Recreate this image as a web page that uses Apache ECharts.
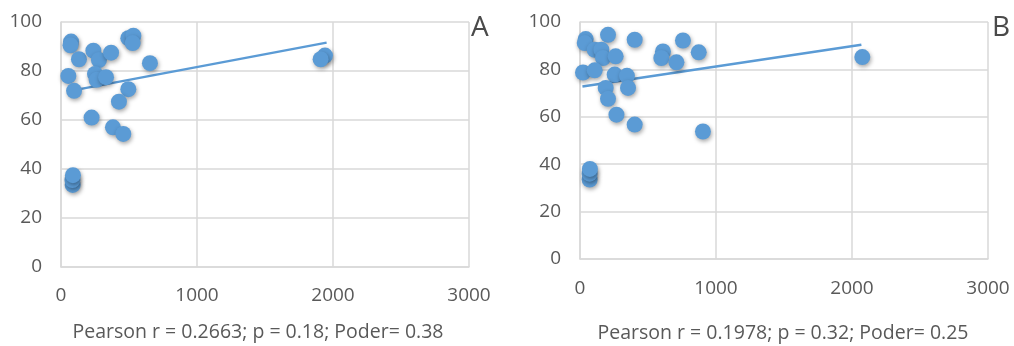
<!DOCTYPE html>
<html>
<head>
<meta charset="utf-8">
<script src="https://cdn.jsdelivr.net/npm/echarts@6/dist/echarts.min.js"></script>
<style>html,body{margin:0;padding:0;background:#fff}#c{width:1014px;height:346px}</style>
</head>
<body>
<div id="c"></div>
<script>
// Panel A data [x, y]
const pointsA = [
  [74, 92], [70, 90.5], [132, 84.8], [238, 88.3], [279, 84.5], [368, 87.5],
  [54, 78], [96, 71.9], [250, 78.8], [262, 76.4], [331, 77.5], [495, 72.6],
  [426, 67.5], [225, 61], [382, 57], [458, 54.3], [495, 93.4], [532, 94.4],
  [527, 91.4], [654, 83.2], [86, 33.5], [84, 35.5], [88, 37.5],
  [1941, 86.3], [1909, 84.8]
];
const trendA = [[50, 71.7], [1953, 91.6]];

// Panel B data [x, y]
const pointsB = [
  [42, 92.8], [35, 91.1], [206, 94.6], [402, 92.5], [108, 88.3], [157, 88.3],
  [169, 84.8], [262, 85.5], [22, 78.7], [108, 79.6], [255, 77.8], [345, 77.3],
  [353, 72.2], [189, 72.2], [206, 67.6], [268, 60.9], [402, 56.7], [610, 87.6],
  [598, 84.8], [709, 83], [757, 92.2], [873, 87.2], [904, 53.8],
  [71, 33.5], [71, 36], [73, 38], [2076, 85.2]
];
const trendB = [[18, 72.8], [2069, 90.4]];

const xTicks = [0, 1000, 2000, 3000];
const yTicks = [0, 20, 40, 60, 80, 100];
const labelA = 'A';
const labelB = 'B';
const statsA = 'Pearson r = 0.2663; p = 0.18; Poder= 0.38';
const statsB = 'Pearson r = 0.1978; p = 0.32; Poder= 0.25';

const FONT = '"Open Sans", sans-serif';
const TXT = '#595959';
const GRID = '#d9d9d9';
const BLUE = '#5b9bd5';

function xAxis(i) {
  return {
    gridIndex: i, type: 'value', min: xTicks[0], max: xTicks[xTicks.length - 1], interval: 1000,
    axisLine: { show: true, lineStyle: { color: GRID, width: 1.5 } },
    axisTick: { show: false },
    splitLine: { show: true, lineStyle: { color: GRID, width: 1.5 } },
    axisLabel: { color: TXT, fontFamily: FONT, fontSize: 19, margin: i === 0 ? 19 : 20, formatter: v => String(v) }
  };
}
function yAxis(i) {
  return {
    gridIndex: i, type: 'value', min: yTicks[0], max: yTicks[yTicks.length - 1], interval: 20,
    axisLine: { show: true, lineStyle: { color: GRID, width: 1.5 } },
    axisTick: { show: false },
    splitLine: { show: true, lineStyle: { color: GRID, width: 1.5 } },
    axisLabel: { color: TXT, fontFamily: FONT, fontSize: 19, margin: 19, formatter: v => String(v) }
  };
}
function scatter(i, data) {
  return {
    type: 'scatter', xAxisIndex: i, yAxisIndex: i, data: data, symbolSize: 16,
    itemStyle: { color: BLUE, opacity: 1, shadowBlur: 4, shadowColor: 'rgba(0,0,0,0.35)', shadowOffsetX: 1, shadowOffsetY: 2 },
    z: 3
  };
}
function trend(i, data) {
  return {
    type: 'line', xAxisIndex: i, yAxisIndex: i, data: data, symbol: 'none',
    lineStyle: { color: BLUE, width: 2.4 }, z: 2, animation: false
  };
}

const chart = echarts.init(document.getElementById('c'), null, { renderer: 'canvas' });
chart.setOption({
  animation: false,
  backgroundColor: '#fff',
  grid: [
    { left: 61, top: 22, width: 408, height: 245 },
    { left: 580, top: 22, width: 408, height: 237 }
  ],
  xAxis: [xAxis(0), xAxis(1)],
  yAxis: [yAxis(0), yAxis(1)],
  series: [trend(0, trendA), scatter(0, pointsA), trend(1, trendB), scatter(1, pointsB)],
  graphic: [
    { type: 'text', left: 471, top: 14, style: { text: labelA, fill: '#4a4a4a', font: '28px ' + FONT } },
    { type: 'text', left: 992, top: 14, style: { text: labelB, fill: '#4a4a4a', font: '28px ' + FONT } },
    { type: 'text', x: 258, y: 332, style: { text: statsA, fill: TXT, font: '19.5px ' + FONT, align: 'center', verticalAlign: 'middle' } },
    { type: 'text', x: 783, y: 333, style: { text: statsB, fill: TXT, font: '19.5px ' + FONT, align: 'center', verticalAlign: 'middle' } }
  ]
});
</script>
</body>
</html>
